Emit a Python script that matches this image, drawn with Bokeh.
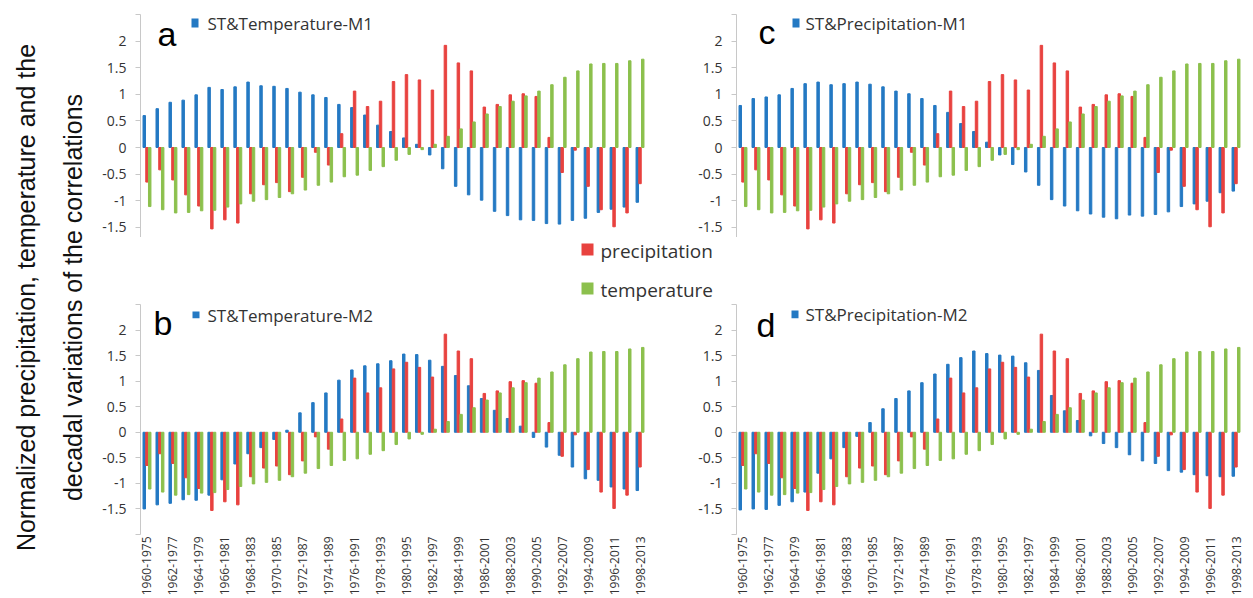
import math
from bokeh.plotting import figure
from bokeh.models import (Range1d, FixedTicker, Label, ColumnDataSource, BoxAnnotation)
from bokeh.layouts import row, column
from bokeh.transform import dodge
from bokeh.embed import file_html
from bokeh.resources import INLINE

categories = [
    "1960-1975", "1961-1976", "1962-1977", "1963-1978", "1964-1979", "1965-1980",
    "1966-1981", "1967-1982", "1968-1983", "1969-1984", "1970-1985", "1971-1986",
    "1972-1987", "1973-1988", "1974-1989", "1975-1990", "1976-1991", "1977-1992",
    "1978-1993", "1979-1994", "1980-1995", "1981-1996", "1982-1997", "1983-1998",
    "1984-1999", "1985-2000", "1986-2001", "1987-2002", "1988-2003", "1989-2004",
    "1990-2005", "1991-2006", "1992-2007", "1993-2008", "1994-2009", "1995-2010",
    "1996-2011", "1997-2012", "1998-2013",
]

precipitation = [
    -0.65, -0.42, -0.61, -0.89, -1.10, -1.53, -1.36, -1.42, -0.87, -0.70,
    -0.66, -0.83, -0.56, -0.09, -0.33, 0.26, 1.06, 0.77, 0.87, 1.24,
    1.37, 1.27, 1.08, 1.92, 1.59, 1.44, 0.76, 0.81, 0.99, 1.01,
    0.96, 0.19, -0.47, -0.05, -0.73, -1.17, -1.49, -1.23, -0.68,
]

temperature = [
    -1.11, -1.17, -1.23, -1.22, -1.19, -1.18, -1.12, -1.06, -1.01, -0.98,
    -0.94, -0.87, -0.80, -0.71, -0.65, -0.55, -0.52, -0.43, -0.36, -0.24,
    -0.13, -0.04, 0.06, 0.21, 0.35, 0.48, 0.63, 0.77, 0.87, 0.97,
    1.06, 1.18, 1.32, 1.44, 1.57, 1.58, 1.58, 1.63, 1.66,
]

st_temperature_m1 = [
    0.60, 0.73, 0.85, 0.89, 0.99, 1.13, 1.09, 1.14, 1.23, 1.16,
    1.15, 1.11, 1.04, 0.99, 0.94, 0.81, 0.75, 0.61, 0.42, 0.30,
    0.18, 0.06, -0.14, -0.40, -0.73, -0.89, -0.99, -1.20, -1.28, -1.36,
    -1.37, -1.43, -1.44, -1.37, -1.33, -1.22, -1.16, -1.12, -1.03,
]

st_temperature_m2 = [
    -1.50, -1.42, -1.39, -1.32, -1.33, -1.23, -0.93, -0.62, -0.42, -0.30,
    -0.14, 0.04, 0.38, 0.58, 0.77, 1.02, 1.22, 1.30, 1.34, 1.40,
    1.53, 1.52, 1.41, 1.29, 1.11, 0.91, 0.66, 0.43, 0.27, 0.12,
    -0.10, -0.29, -0.45, -0.68, -0.91, -0.94, -1.07, -1.11, -1.14,
]

st_precipitation_m1 = [
    0.79, 0.92, 0.95, 0.99, 1.11, 1.20, 1.23, 1.18, 1.20, 1.23,
    1.19, 1.14, 1.06, 1.01, 0.92, 0.79, 0.66, 0.45, 0.30, 0.10,
    -0.14, -0.32, -0.46, -0.71, -0.98, -1.10, -1.19, -1.25, -1.31, -1.34,
    -1.27, -1.29, -1.26, -1.21, -1.11, -1.06, -1.01, -0.85, -0.82,
]

st_precipitation_m2 = [
    -1.52, -1.50, -1.51, -1.43, -1.36, -1.17, -0.80, -0.52, -0.30, -0.08,
    0.19, 0.46, 0.66, 0.81, 0.97, 1.14, 1.33, 1.46, 1.59, 1.54,
    1.51, 1.49, 1.36, 1.21, 0.72, 0.42, 0.23, -0.07, -0.22, -0.30,
    -0.44, -0.56, -0.61, -0.75, -0.78, -0.83, -0.85, -0.87, -0.86,
]

y_label_lines = ["Normalized precipitation, temperature and the",
                 "decadal variations of the correlations"]

BLUE = "#2479c3"
RED = "#e8423f"
GREEN = "#8cc04d"
TXT = "#333333"
AXC = "#c8c8c8"
FONT = "Open Sans"
FRAME_W = 506
TOP_H = 237
BOT_H = 294
LEG_H = 598 - TOP_H - BOT_H


def make_panel(st_values, st_label, letter, top, left_border, right_border,
               letter_px, key_px):
    height = TOP_H if top else BOT_H
    btop, bbot = (14, 0) if top else (0, 60)
    frame_h = height - btop - bbot
    ymax = 2.5
    ymin = (ymax - frame_h / 53.2) if top else -2.0
    n = len(categories)
    p = figure(width=left_border + FRAME_W + right_border, height=height,
               x_range=Range1d(-0.5, n - 0.5),
               y_range=Range1d(ymin, ymax),
               x_axis_location=None if top else "below",
               toolbar_location=None, output_backend="svg",
               min_border_left=left_border, min_border_right=right_border,
               min_border_top=btop, min_border_bottom=bbot,
               outline_line_color=None, background_fill_color=None,
               border_fill_color=None)
    p.grid.grid_line_color = None

    # pixel offsets (from the frame's top-left) -> data coordinates, for decorations
    def px(dx, dy):
        return (-0.5 + dx * n / FRAME_W, ymax - dy * (ymax - ymin) / frame_h)

    src = ColumnDataSource(dict(x=list(range(n)), st=st_values,
                                prec=precipitation, temp=temperature))
    p.vbar(x=dodge("x", -0.21, range=p.x_range), top="st", width=0.19,
           source=src, color=BLUE)
    p.vbar(x=dodge("x", 0.0, range=p.x_range), top="prec", width=0.19,
           source=src, color=RED)
    p.vbar(x=dodge("x", 0.21, range=p.x_range), top="temp", width=0.19,
           source=src, color=GREEN)

    ticks = [-1.5, -1.0, -0.5, 0.0, 0.5, 1.0, 1.5, 2.0, 2.5]
    if not top:
        ticks = [-2.0] + ticks
    yax = p.yaxis[0]
    yax.ticker = FixedTicker(ticks=ticks)
    yax.major_label_overrides = {t: ("" if t in (2.5, -2.0) else f"{t:g}") for t in ticks}
    yax.axis_line_color = AXC
    yax.major_tick_line_color = AXC
    yax.major_tick_out = 5
    yax.major_tick_in = 0
    yax.minor_tick_line_color = None
    yax.major_label_standoff = 9
    yax.major_label_text_font = FONT
    yax.major_label_text_font_size = "14px"
    yax.major_label_text_color = TXT

    if not top:
        xax = p.xaxis[0]
        even = list(range(0, n, 2))
        xax.ticker = FixedTicker(ticks=even)
        xax.major_label_overrides = {i: categories[i] for i in even}
        xax.major_label_orientation = math.pi / 2
        xax.axis_line_color = None
        xax.major_tick_line_color = None
        xax.major_tick_out = 0
        xax.major_tick_in = 0
        xax.minor_tick_line_color = None
        xax.major_label_standoff = 2
        xax.major_label_text_font = FONT
        xax.major_label_text_font_size = "12px"
        xax.major_label_text_color = TXT

    lx, ly = px(*letter_px)
    p.add_layout(Label(x=lx, y=ly, text=letter,
                       text_font="Liberation Sans", text_font_size="34px",
                       text_color="#000000", text_baseline="alphabetic"))
    # series key: small blue square + name
    sq_l, sq_t, sq_r, sq_b, tx, ty = key_px
    x0, y0 = px(sq_l, sq_t)
    x1, y1 = px(sq_r, sq_b)
    p.add_layout(BoxAnnotation(left=x0, right=x1, top=y0, bottom=y1,
                               fill_color=BLUE, fill_alpha=1.0, line_color=None))
    kx, ky = px(tx, ty)
    p.add_layout(Label(x=kx, y=ky, text=st_label, text_font=FONT,
                       text_font_size="17px", text_color=TXT,
                       text_baseline="middle"))
    return p


pa = make_panel(st_temperature_m1, "ST&Temperature-M1", "a", True, 45, 44,
                (17, 19), (51, 4, 58, 13, 67, 9))
pc = make_panel(st_precipitation_m1, "ST&Precipitation-M1", "c", True, 46, 11,
                (22, 17), (56, 4, 63, 13, 69, 9))
pb = make_panel(st_temperature_m2, "ST&Temperature-M2", "b", False, 45, 44,
                (13, 19), (52, 7, 59, 14, 67, 11))
pd_ = make_panel(st_precipitation_m2, "ST&Precipitation-M2", "d", False, 46, 11,
                 (20, 21), (55, 6, 62, 14, 69, 10))

# y label column
ylab = figure(width=95, height=598, x_range=Range1d(0, 95), y_range=Range1d(0, 598),
              x_axis_location=None, y_axis_location=None, toolbar_location=None,
              output_backend="svg", min_border=0, outline_line_color=None)
ylab.grid.grid_line_color = None
ylab.add_layout(Label(x=25, y=301, text=y_label_lines[0], angle=math.pi / 2,
                      text_align="center", text_baseline="alphabetic",
                      text_font="Liberation Sans", text_font_size="25px",
                      text_color="#111111"))
ylab.add_layout(Label(x=72, y=301, text=y_label_lines[1], angle=math.pi / 2,
                      text_align="center", text_baseline="alphabetic",
                      text_font="Liberation Sans", text_font_size="25px",
                      text_color="#111111"))

# shared legend row (precipitation / temperature keys); ranges are in pixels
legfig = figure(width=1158, height=LEG_H, x_range=Range1d(0, 1158),
                y_range=Range1d(0, LEG_H),
                x_axis_location=None, y_axis_location=None, toolbar_location=None,
                output_backend="svg", min_border=0, outline_line_color=None)
legfig.grid.grid_line_color = None
for name, colr, ybot in (("precipitation", RED, LEG_H - 18), ("temperature", GREEN, LEG_H - 57)):
    legfig.add_layout(BoxAnnotation(left=486, right=498, bottom=ybot, top=ybot + 12,
                                    fill_color=colr, fill_alpha=1.0, line_color=None))
    legfig.add_layout(Label(x=505, y=ybot + 4.5, text=name, text_font=FONT,
                            text_font_size="19px", text_color=TXT,
                            text_baseline="middle"))

layout = row(ylab, column(row(pa, pc), legfig, row(pb, pd_)))

open("out.html", "w").write(file_html(layout, INLINE))
